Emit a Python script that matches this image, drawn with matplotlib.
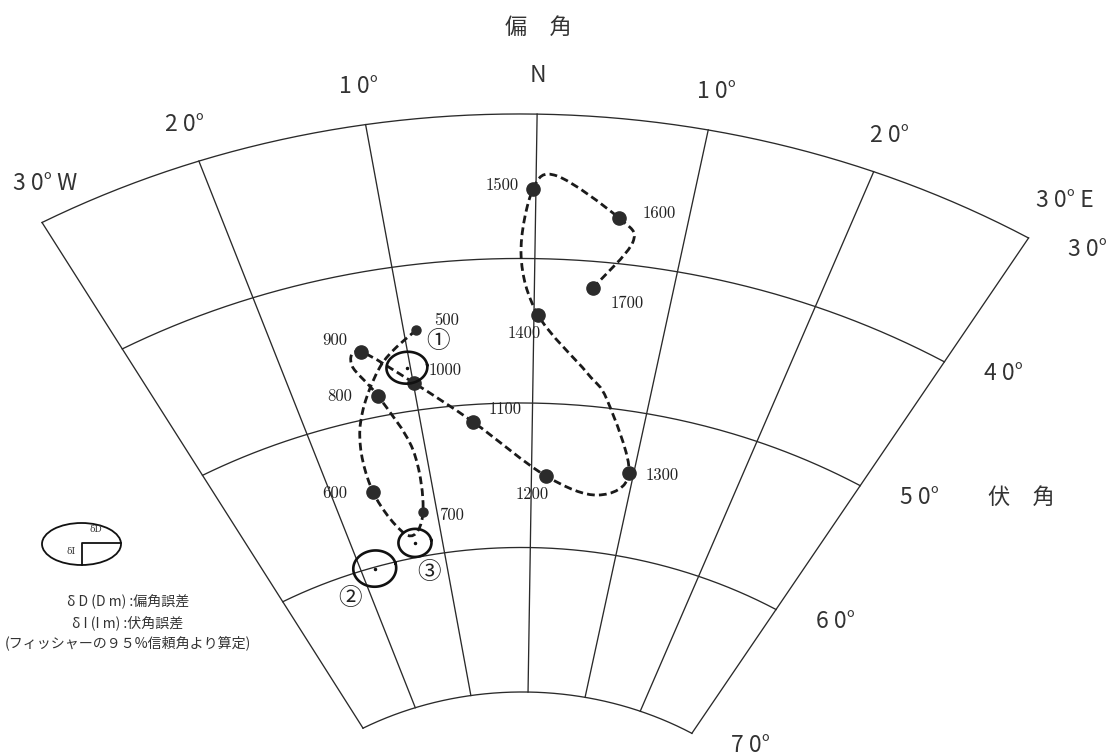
import numpy as np
import matplotlib
matplotlib.use("Agg")
import matplotlib.pyplot as plt
from matplotlib.path import Path
from matplotlib.patches import PathPatch, Ellipse

# ---- data (declination D, inclination I in degrees) ----
years = [500, 600, 700, 800, 900, 1000, 1100, 1200, 1300, 1400, 1500, 1600, 1700]
dec = [-9.05, -15.94, -11.46, -13.13, -13.60, -9.94, -5.33, 1.45, 9.55, 0.30, -0.19, 5.48, 4.24]
inc = [44.5, 54.97, 56.99, 48.6, 45.4, 48.11, 51.2, 55.02, 54.23, 43.89, 35.2, 36.86, 41.83]

# dashed secular variation track
track_dec = [-9.05, -12.41, -15.42, -15.94, -13.65, -11.46, -11.16, -13.13, -14.57, -13.60,
             -9.94, -5.33, 1.45, 6.88, 9.55, 6.41, 4.45, 0.30, -0.96, -0.19, 1.30, 5.48,
             6.62, 4.24]
track_inc = [44.5, 46.66, 50.6, 54.97, 58.4, 56.99, 52.66, 48.6, 46.2, 45.4,
             48.11, 51.2, 55.02, 56.05, 54.23, 49.45, 47.72, 43.89, 39.75, 35.2, 34.24, 36.86,
             38.4, 41.83]

# measured samples with error ellipses
samp_labels = ["①", "②", "③"]
samp_dec = [-10.28, -18.39, -13.08]
samp_inc = [47.0, 60.1, 59.0]
samp_dD = [1.66, 2.51, 1.86]
samp_dI = [1.1, 1.25, 0.97]

dec_ticks = [-30, -20, -10, 0, 10, 20, 30]
inc_ticks = [30, 40, 50, 60, 70]
dec_ticklabels = ["3 0° W", "2 0°", "1 0°", "N", "1 0°", "2 0°", "3 0° E"]
inc_ticklabels = ["3 0°", "4 0°", "5 0°", "6 0°", "7 0°"]

# ---- projection of the fan chart ----
STRETCH = 1.138
TILT = np.radians(0.9)
SCALE = 14.45          # px per unit
APEX = (523.5, 981.0)  # apex position in px
W, H = 1112, 755


def proj(d, i):
    d = np.radians(np.asarray(d, dtype=float))
    r = 90.0 - np.asarray(i, dtype=float)
    u = STRETCH * r * np.sin(d)
    v = r * np.cos(d)
    return u * np.cos(TILT) + v * np.sin(TILT), -u * np.sin(TILT) + v * np.cos(TILT)


JP = ["Noto Sans CJK JP", "DejaVu Sans"]

fig = plt.figure(figsize=(W / 100, H / 100), dpi=100)
ax = fig.add_axes([0, 0, 1, 1])
ax.set_xlim(-APEX[0] / SCALE, (W - APEX[0]) / SCALE)
ax.set_ylim((APEX[1] - H) / SCALE, APEX[1] / SCALE)
ax.axis("off")

grid_kw = dict(color="#2a2a2a", lw=0.95, zorder=1)
dd = np.linspace(-30, 30, 241)
for i in inc_ticks:
    ax.plot(*proj(dd, np.full_like(dd, i)), **grid_kw)
ii = np.linspace(30, 70, 50)
for d in dec_ticks:
    ax.plot(*proj(np.full_like(ii, d), ii), **grid_kw)

# declination labels
for d, lab in zip(dec_ticks, dec_ticklabels):
    if d == -30:
        x, y = proj(-28.6, 27.7)
    elif d == 30:
        x, y = proj(30.5, 26.6)
    else:
        x, y = proj(d, 27.3)
    ax.text(x, y, lab, ha="center", va="center", fontsize=16.5, family=JP, color="#333")
ax.text(*proj(0, 24.0), "偏　角", ha="center", va="center", fontsize=16, family=JP, color="#333")

# inclination labels along the east edge
for i, lab in zip(inc_ticks, inc_ticklabels):
    ax.annotate(lab, proj(30, i), xytext=(59, -12), textcoords="offset pixels",
                ha="center", va="center", fontsize=16.5, family=JP, color="#333")
ax.annotate("伏　角", proj(30, 50), xytext=(161, -12), textcoords="offset pixels",
            ha="center", va="center", fontsize=16, family=JP, color="#333")

# dashed track as smooth bezier through read points
px, py = proj(track_dec, track_inc)
P = np.column_stack([px, py])
Pe = np.vstack([P[0], P, P[-1]])
verts = [P[0]]
codes = [Path.MOVETO]
for k in range(len(P) - 1):
    p0, p1, p2, p3 = Pe[k], Pe[k + 1], Pe[k + 2], Pe[k + 3]
    verts += [p1 + (p2 - p0) / 6.0, p2 - (p3 - p1) / 6.0, p2]
    codes += [Path.CURVE4] * 3
ax.add_patch(PathPatch(Path(verts, codes), fill=False, ec="#1a1a1a", lw=2.0,
                       ls=(0, (2.8, 1.5)), zorder=2))

# dated points
label_off = {500: (31, -10), 600: (-38, 1), 700: (29, 3), 800: (-38, 0), 900: (-26, -12),
             1000: (31, -13), 1100: (32, -13), 1200: (-14, 18), 1300: (33, 2),
             1400: (-14, 18), 1500: (-31, -4), 1600: (40, -5), 1700: (34, 15)}
small = {500, 700}
for yr, d, i in zip(years, dec, inc):
    x, y = proj(d, i)
    ax.plot(x, y, "o", ms=6.5 if yr in small else 9.5, color="#2b2b2b", mec="#2b2b2b", zorder=3)
    ox, oy = label_off[yr]
    ax.annotate(str(yr), (x, y), xytext=(ox, -oy), textcoords="offset pixels",
                ha="center", va="center", fontsize=12, family="cmr10", color="#222")

# sample ellipses
circ_off = [(31, -26), (-25, 30), (14, 30)]
t = np.linspace(0, 2 * np.pi, 120)
for lab, d, i, eD, eI, (ox, oy) in zip(samp_labels, samp_dec, samp_inc, samp_dD, samp_dI, circ_off):
    ax.plot(*proj(d + eD * np.cos(t), i + eI * np.sin(t)), color="#111", lw=1.9, zorder=3)
    cx, cy = proj(d, i)
    ax.plot(cx, cy, "o", ms=1.5, color="#111", zorder=3)
    ax.annotate(lab, (cx, cy), xytext=(ox, -oy), textcoords="offset pixels",
                ha="center", va="center", fontsize=17, family=JP, color="#222")

# legend key
lax = fig.add_axes([30 / W, 1 - 575 / H, 105 / W, 60 / H])
lax.set_xlim(0, 105)
lax.set_ylim(60, 0)
lax.axis("off")
lax.add_patch(Ellipse((51.5, 29), 79, 42, fill=False, ec="#111", lw=1.3))
lax.plot([51.5, 51.5, 91], [50, 28, 28], color="#111", lw=1.3)
lax.text(66, 14, "δD", ha="center", va="center", fontsize=6.5, family="DejaVu Serif", color="#333")
lax.text(41, 36, "δI", ha="center", va="center", fontsize=6.5, family="DejaVu Serif", color="#333")

legend_lines = ["δ D (D m) :偏角誤差", "δ I (I m) :伏角誤差", "(フィッシャーの９５%信頼角より算定)"]
for k, txt in enumerate(legend_lines):
    fig.text(128 / W, 1 - (602 + 20.5 * k) / H, txt, ha="center", va="center",
             fontsize=10.1, family=JP, color="#333")

fig.savefig("out.png", dpi=100, facecolor="white")
